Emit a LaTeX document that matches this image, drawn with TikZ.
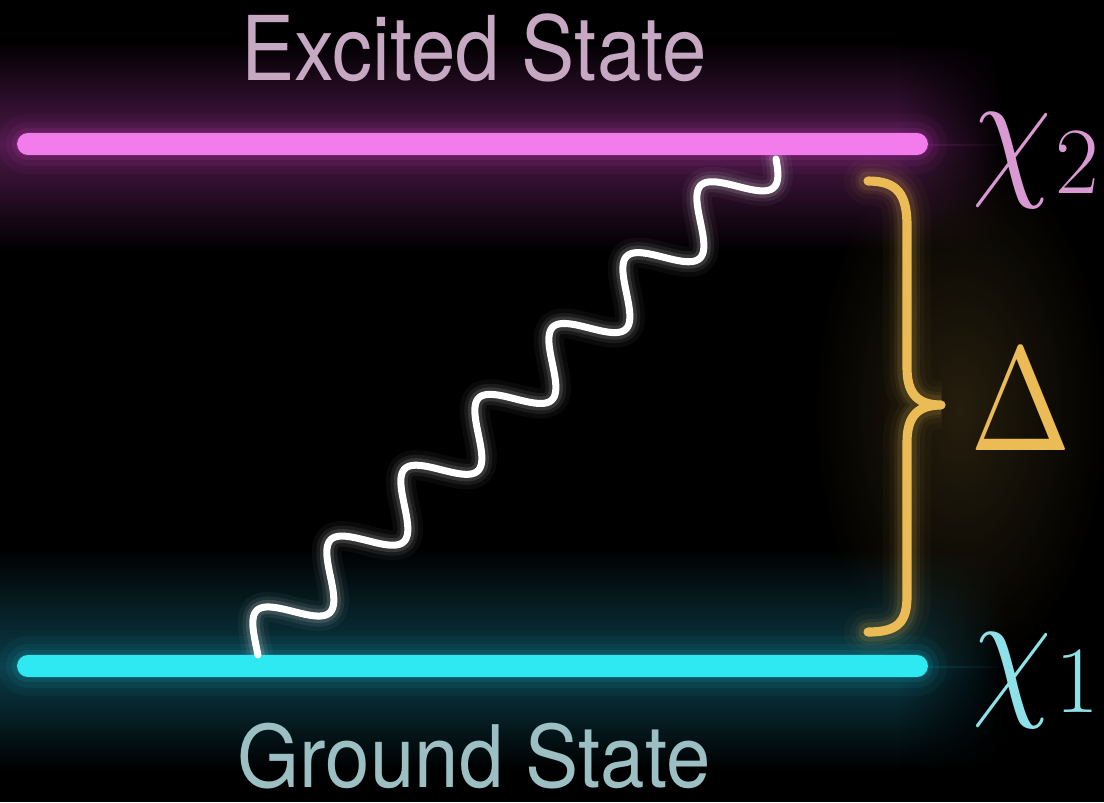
\documentclass[tikz,border=0pt]{standalone}
\usepackage{fontspec}
\newfontfamily\heros{TeX Gyre Heros}
\usetikzlibrary{calc,fadings}
\definecolor{mag}{HTML}{F27CEB}
\definecolor{magglow}{HTML}{B83AAE}
\definecolor{cya}{HTML}{2EE8F2}
\definecolor{cyaglow}{HTML}{18A8BA}
\definecolor{gold}{HTML}{EBBB55}
\definecolor{exctext}{HTML}{C6A8C2}
\definecolor{grdtext}{HTML}{9CBFC3}
\definecolor{chitwo}{HTML}{D99AD3}
\definecolor{chione}{HTML}{8FE1E9}
\definecolor{purplehaze}{HTML}{4C1848}
\definecolor{tealhaze}{HTML}{0B3C48}
\tikzfading[name=glowfade, inner color=transparent!0, outer color=transparent!100]
\tikzset{
  levelline/.style={line width=6.2pt, line cap=round},
  statetext/.style={font=\heros\fontsize{22.7}{26}\selectfont, anchor=base, inner sep=0pt},
  bracepath/.style={draw=gold, line width=2.6pt, line cap=round, line join=round},
  photon/.style={draw=white, line width=2pt, line cap=round},
}
\newcommand\wavecurve{plot[domain=0:717, samples=400, smooth]
  ({0.7225*\x + 0.6918*(-7+26*sin(3.5146*(\x-55.6)))},
   {-0.6918*\x + 0.7225*(-7+26*sin(3.5146*(\x-55.6)))})}
\newcommand\bracecurve{(868,181) .. controls (898,181) and (907,195) .. (907,226) -- (907,368) .. controls (907,394) and (918,405) .. (941,405) .. controls (918,405) and (907,416) .. (907,442) -- (907,596) .. controls (907,622) and (898,632) .. (868,632)}
\begin{document}
\begin{tikzpicture}[x=0.01cm, y=-0.01cm]
\fill[black] (0,0) rectangle (1104,802);
\useasboundingbox (0,0) rectangle (1104,802);
% hazes
\shade[top color=black, bottom color=purplehaze] (0,40) rectangle (900,145);
\shade[top color=purplehaze, bottom color=black] (0,144) rectangle (900,250);
\shade[top color=black, bottom color=tealhaze] (0,550) rectangle (900,667);
\shade[top color=tealhaze, bottom color=black] (0,666) rectangle (900,770);
\shade[top color=black, bottom color=purplehaze, path fading=east] (900,40) rectangle (1005,145);
\shade[top color=purplehaze, bottom color=black, path fading=east] (900,144) rectangle (1005,250);
\shade[top color=black, bottom color=tealhaze, path fading=east] (900,550) rectangle (1005,667);
\shade[top color=tealhaze, bottom color=black, path fading=east] (900,666) rectangle (1005,770);
% golden haze
\fill[gold, opacity=0.16, path fading=glowfade] (960,410) ellipse (150 and 270);
% coordinates
\coordinate (m1) at (28,144);
\coordinate (m2) at (917,144);
\coordinate (c1) at (28,666);
\coordinate (c2) at (917,666);
\coordinate (wS) at (258,655);
\coordinate (wE) at (776,159);
% glows
\foreach \w/\o in {60/0.06,44/0.09,32/0.14,24/0.22}{
  \draw[magglow, line width=\w*0.2845pt, line cap=round, opacity=\o] (m1) -- (m2);
  \draw[cyaglow, line width=\w*0.2845pt, line cap=round, opacity=\o] (c1) -- (c2);
  \draw[gold, line width=\w*0.2845pt*0.8, line cap=round, opacity=\o*0.5] \bracecurve;
}
\foreach \w/\o in {30/0.04,21/0.07,14/0.12}{
  \draw[white, line width=\w*0.2845pt, line cap=round, opacity=\o, shift={(wS)}] \wavecurve;
}
% level lines
\draw[levelline, mag] (m1) -- (m2);
\draw[levelline, cya] (c1) -- (c2);
% photon
\draw[photon, shift={(wS)}] \wavecurve;
% brace
\draw[bracepath] \bracecurve;
% texts
\node[statetext, text=exctext] (exc) at (474,80) {\scalebox{1}[1.12]{Excited State}};
\node[statetext, text=grdtext] (grd) at (474,787) {\scalebox{1}[1.08]{Ground State}};
\node[anchor=base west, text=chitwo, inner sep=0pt] (chi2) at (972,178)
  {\scalebox{3.6}[4.3]{$\chi$}\kern1pt\raisebox{-4.5pt}{\fontsize{27}{27}\selectfont 2}};
\node[anchor=base west, text=chione, inner sep=0pt] (chi1) at (972,698)
  {\scalebox{3.6}[4.3]{$\chi$}\kern1pt\raisebox{-4pt}{\fontsize{27}{27}\selectfont 1}};
\node[anchor=base, text=gold, inner sep=0pt] (delta) at (1021,450)
  {\scalebox{3.44}[4.2]{$\Delta$}};
\end{tikzpicture}
\end{document}
